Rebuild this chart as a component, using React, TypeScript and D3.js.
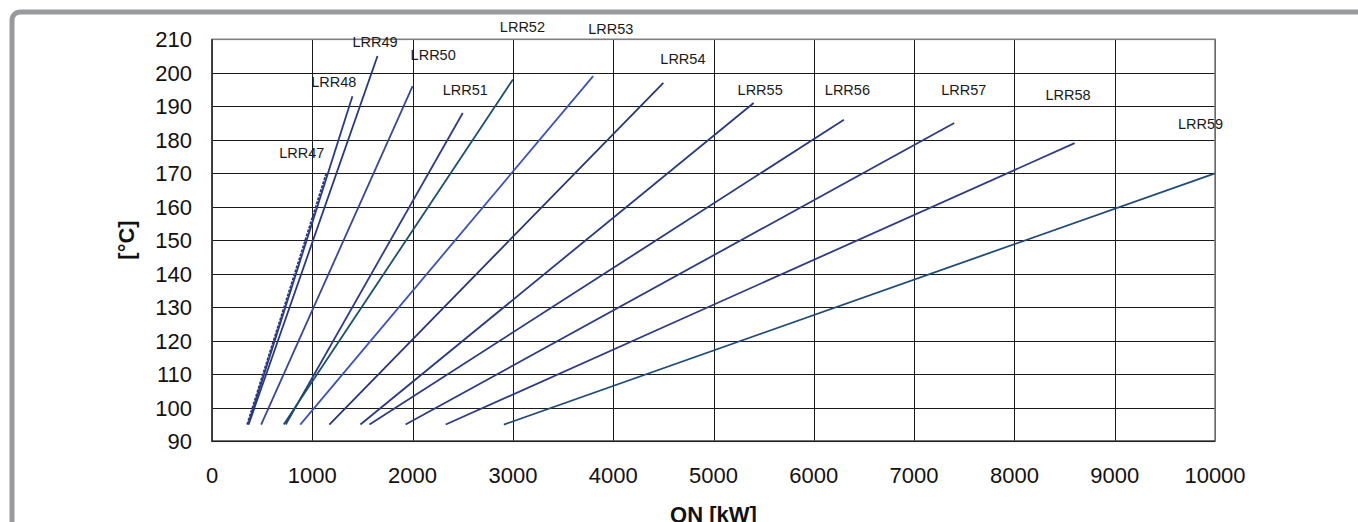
import React, { useEffect, useRef } from 'react'
import * as d3 from 'd3'

// LRR curves: heat output QN [kW] vs temperature [°C]
const series = ['LRR47', 'LRR48', 'LRR49', 'LRR50', 'LRR51', 'LRR52', 'LRR53', 'LRR54', 'LRR55', 'LRR56', 'LRR57', 'LRR58', 'LRR59']
const qStart = [350, 360, 365, 490, 735, 715, 880, 1170, 1480, 1570, 1930, 2330, 2910]
const tStart = [95, 95, 95, 95, 95, 95, 95, 95, 95, 95, 95, 95, 95]
const qEnd = [1140, 1400, 1650, 2000, 2500, 3000, 3800, 4500, 5400, 6300, 7400, 8600, 10000]
const tEnd = [170, 193, 205, 196, 188, 198, 199, 197, 191, 186, 185, 179, 170]
// where each name sits (left edge, middle), in chart units
const labelQ = [670, 990, 1400, 1980, 2300, 2870, 3750, 4470, 5240, 6110, 7270, 8310, 9630]
const labelT = [176, 197.3, 209.3, 205.3, 195, 213.8, 213, 204.1, 195, 195, 195, 193.4, 184.6]
const lineColors = ['#27378a', '#2b3a86', '#283880', '#3a4791', '#2e3c84', '#1d4f6c', '#3c53b6', '#283574', '#293a7e', '#2a3a82', '#2c3c84', '#2d3b85', '#1f4b78']

const xTicks = [0, 1000, 2000, 3000, 4000, 5000, 6000, 7000, 8000, 9000, 10000]
const yTicks = [90, 100, 110, 120, 130, 140, 150, 160, 170, 180, 190, 200, 210]

const W = 1358
const H = 522
const font = '"Liberation Sans", Arial, sans-serif'

export default function App() {
  const ref = useRef<SVGSVGElement>(null)

  useEffect(() => {
    const svg = d3.select(ref.current)
    svg.selectAll('*').remove()

    const x = d3.scaleLinear().domain([0, 10000]).range([212, 1215])
    const y = d3.scaleLinear().domain([90, 210]).range([441.3, 39.3])

    // outer rounded frame
    svg.append('rect')
      .attr('x', 12).attr('y', 12)
      .attr('width', 1420).attr('height', 620)
      .attr('rx', 8).attr('ry', 8)
      .attr('fill', '#fff')
      .attr('stroke', '#999a9d')
      .attr('stroke-width', 5)

    const g = svg.append('g')

    // grid
    g.selectAll('line.gy')
      .data(yTicks)
      .enter()
      .append('line')
      .attr('x1', x(0)).attr('x2', x(10000))
      .attr('y1', d => Math.round(y(d)) + 0.5).attr('y2', d => Math.round(y(d)) + 0.5)
      .attr('stroke', '#1a1a1a').attr('stroke-width', 1)

    g.selectAll('line.gx')
      .data(xTicks)
      .enter()
      .append('line')
      .attr('y1', y(90)).attr('y2', y(210))
      .attr('x1', d => Math.round(x(d)) + 0.5).attr('x2', d => Math.round(x(d)) + 0.5)
      .attr('stroke', '#1a1a1a').attr('stroke-width', 1)

    // plot frame: top/right grey, left/bottom dark
    g.append('rect')
      .attr('x', x(0)).attr('y', y(210))
      .attr('width', x(10000) - x(0)).attr('height', y(90) - y(210))
      .attr('fill', 'none').attr('stroke', '#7f7f7f').attr('stroke-width', 1.6)
    g.append('path')
      .attr('d', `M${x(0)},${y(210)}V${y(90)}H${x(10000)}`)
      .attr('fill', 'none').attr('stroke', '#222').attr('stroke-width', 1.4)

    // tick labels
    g.selectAll('text.yt')
      .data(yTicks)
      .enter()
      .append('text')
      .attr('x', 192)
      .attr('y', d => y(d) + 8)
      .attr('text-anchor', 'end')
      .attr('font-family', font).attr('font-size', 22)
      .attr('fill', '#111')
      .text(d => d)

    g.selectAll('text.xt')
      .data(xTicks)
      .enter()
      .append('text')
      .attr('x', d => x(d))
      .attr('y', 483)
      .attr('text-anchor', 'middle')
      .attr('font-family', font).attr('font-size', 22)
      .attr('fill', '#111')
      .text(d => d)

    // axis titles
    g.append('text')
      .attr('x', (x(0) + x(10000)) / 2).attr('y', 522)
      .attr('text-anchor', 'middle')
      .attr('font-family', font).attr('font-size', 22).attr('font-weight', 'bold')
      .attr('fill', '#111')
      .text('QN [kW]')

    g.append('text')
      .attr('transform', 'translate(134,240) rotate(-90)')
      .attr('text-anchor', 'middle')
      .attr('font-family', font).attr('font-size', 22).attr('font-weight', 'bold')
      .attr('fill', '#111')
      .text('[°C]')

    // lines
    const line = d3.line<[number, number]>().x(d => x(d[0])).y(d => y(d[1]))
    g.selectAll('path.lrr')
      .data(series)
      .enter()
      .append('path')
      .attr('d', (d, i) => line([[qStart[i], tStart[i]], [qEnd[i], tEnd[i]]]))
      .attr('fill', 'none')
      .attr('stroke', (d, i) => lineColors[i])
      .attr('stroke-width', 1.8)
      .attr('stroke-dasharray', (d, i) => (i === 0 ? '3 1.2' : null))

    // series names
    g.selectAll('text.lbl')
      .data(series)
      .enter()
      .append('text')
      .attr('x', (d, i) => x(labelQ[i]))
      .attr('y', (d, i) => y(labelT[i]) + 5)
      .attr('font-family', font).attr('font-size', 14.5)
      .attr('fill', '#1a1a1a')
      .text(d => d)
  }, [])

  return (
    <div>
      <svg ref={ref} width={W} height={H} style={{ position: 'absolute', left: 0, top: 0, background: '#fff' }}></svg>
    </div>
  )
}
